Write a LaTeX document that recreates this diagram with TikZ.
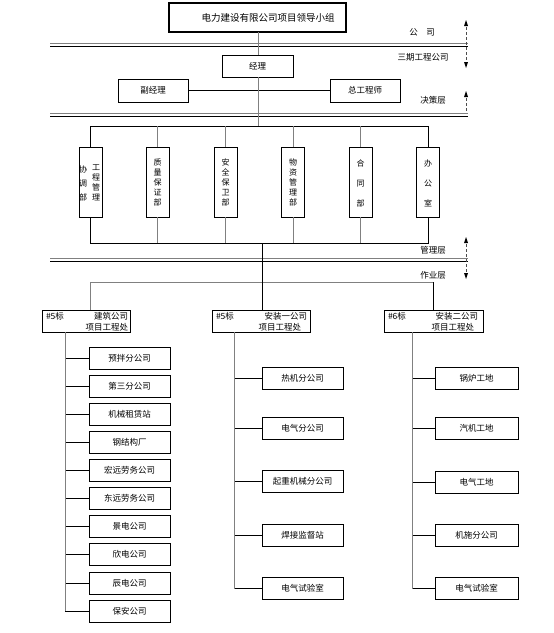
\documentclass[tikz,border=0pt]{standalone}
\usepackage{fontspec}
\setmainfont{Liberation Serif}
\newfontfamily\cjk{Noto Sans CJK SC}
\usetikzlibrary{arrows.meta}
\begin{document}
\begin{tikzpicture}[x=1pt,y=-1pt,
  every node/.style={inner sep=0pt, outer sep=0pt},
  txt/.style={font=\cjk\fontsize{8.5}{10}\selectfont},
  bx/.style={draw, line width=0.8pt, txt, minimum height=22pt},
  sub/.style={bx, minimum width=81pt},
  dept/.style={draw, line width=0.8pt, minimum width=23pt, minimum height=70pt},
  vtxt/.style={txt, align=center, font=\cjk\fontsize{8}{10}\selectfont},
  ln/.style={line width=0.8pt},
  gl/.style={line width=0.8pt, gray},
  dar/.style={line width=0.6pt, densely dashed, gray!60!black},
  tip/.style={-{Triangle[length=5pt,width=4pt]}}
]
\useasboundingbox (0,0) rectangle (554,633);
% top box
\node[draw, line width=1.6pt, minimum width=177pt, minimum height=29pt] (top) at (257.5,17.5) {};
\node[txt, font=\cjk\fontsize{9.5}{11}\selectfont] (toptxt) at (268,17.5) {电力建设有限公司项目领导小组};
% double lines
\draw[gl] (50,43) -- (468,43);
\draw[ln] (50,46) -- (468,46);
\draw[gl] (50,113) -- (468,113);
\draw[ln] (50,116) -- (468,116);
\draw[gl] (50,258) -- (468,258);
\draw[ln] (50,261) -- (468,261);
% right labels
\node[txt] (l1) at (422,32) {公\hspace{1em}司};
\node[txt] (l2) at (423,57) {三期工程公司};
\node[txt] (l3) at (433,100) {决策层};
\node[txt] (l4) at (433,250) {管理层};
\node[txt] (l5) at (433,275) {作业层};
% dashed arrows
\coordinate (a1t) at (466,22); \coordinate (a1b) at (466,66);
\coordinate (a2t) at (466,93); \coordinate (a2b) at (466,111);
\coordinate (a3t) at (466,239); \coordinate (a3b) at (466,277);
\draw[dar] (a1t) -- (a1b);
\draw[dar] (a2t) -- (a2b);
\draw[dar] (a3t) -- (a3b);
\fill[black] (466,20) -- (464,26) -- (468,26) -- cycle;
\fill[black] (466,68) -- (464,62) -- (468,62) -- cycle;
\fill[black] (466,91) -- (464,97) -- (468,97) -- cycle;
\fill[black] (466,237) -- (464,243) -- (468,243) -- cycle;
\fill[black] (466,279) -- (464,273) -- (468,273) -- cycle;
% decision level
\node[bx, minimum width=71pt] (jl) at (257.5,66) {经理};
\node[bx, minimum width=70pt, minimum height=23pt] (fjl) at (153,90.5) {副经理};
\node[bx, minimum width=70pt, minimum height=23pt] (zgc) at (365,90.5) {总工程师};
\draw[ln] (fjl.east) -- (zgc.west);
\coordinate (bt) at (258,126);
\draw[gl] (top.south -| bt) -- (jl.north -| bt);
\draw[gl] (jl.south -| bt) -- (bt);
% departments
\node[dept] (d1) at (90.5,182) {};
\node[vtxt] (d1a) at (83,183) {协\\[4pt]调\\[4pt]部};
\node[vtxt] (d1b) at (96,183) {工\\程\\管\\理};
\node[dept] (d2) at (157.5,182) {};
\node[vtxt] (d2t) at (157.5,182) {质\\量\\保\\证\\部};
\node[dept] (d3) at (225.5,182) {};
\node[vtxt] (d3t) at (225.5,182) {安\\全\\保\\卫\\部};
\node[dept] (d4) at (293,182) {};
\node[vtxt] (d4t) at (293,182) {物\\资\\管\\理\\部};
\node[dept] (d5) at (360.5,182) {};
\node[vtxt] (d5t) at (360.5,183) {合\\[10pt]同\\[10pt]部};
\node[dept] (d6) at (428,182) {};
\node[vtxt] (d6t) at (428,183) {办\\[10pt]公\\[10pt]室};
\draw[ln] (d1.north) -- (d1.north |- bt) -- (d6.north |- bt) -- (d6.north);
\foreach \d in {d2,d3,d4,d5} \draw[gl] (\d.north) -- (\d.north |- bt);
\coordinate (bb) at (262,243);
\draw[ln] (d1.south) -- (d1.south |- bb) -- (d6.south |- bb) -- (d6.south);
\foreach \d in {d2,d3,d4,d5} \draw[gl] (\d.south) -- (\d.south |- bb);
% work level
\coordinate (wb) at (262,282);
\draw[ln] (bb) -- (wb);
\node[draw, line width=0.8pt, minimum width=88pt, minimum height=22pt] (o1) at (86,321) {};
\node[draw, line width=0.8pt, minimum width=98pt, minimum height=22pt] (o2) at (261,321) {};
\node[draw, line width=0.8pt, minimum width=99pt, minimum height=22pt] (o3) at (433.5,321) {};
\draw[gl] (90,310) -- (90,282) -- (433,282);
\draw[ln] (433,282) -- (433,310);
\draw[ln] (262,282) -- (262,310);
\node[txt, anchor=west] (o1a) at (46,316) {\#5标};
\node[txt, anchor=east] (o1b) at (128,316) {建筑公司};
\node[txt, anchor=east] (o1c) at (128,327) {项目工程处};
\node[txt, anchor=west] (o2a) at (216,316) {\#5标};
\node[txt, anchor=east] (o2b) at (307,316) {安装一公司};
\node[txt, anchor=east] (o2c) at (301,327) {项目工程处};
\node[txt, anchor=west] (o3a) at (388,316) {\#6标};
\node[txt, anchor=east] (o3b) at (478,316) {安装二公司};
\node[txt, anchor=east] (o3c) at (474,327) {项目工程处};
% left column
\coordinate (t1) at (65,332);
\foreach \n/\y/\t in {1/358/预拌分公司,2/386/第三分公司,3/414/机械租赁站,4/442/钢结构厂,5/470/宏远劳务公司,6/498/东远劳务公司,7/526/景电公司,8/554/欣电公司,9/583/辰电公司,10/611/保安公司}{
  \node[sub] (a\n) at (129.5,\y) {\t};
  \draw[ln] (a\n.west) -- (a\n.west -| t1);
}
\draw[gl] (t1) -- (a10.west -| t1);
% middle column
\coordinate (t2) at (234,332);
\foreach \n/\y/\t in {1/378/热机分公司,2/428/电气分公司,3/481.5/起重机械分公司,4/535/焊接监督站,5/588.5/电气试验室}{
  \node[sub] (b\n) at (302.5,\y) {\t};
  \draw[ln] (b\n.west) -- (b\n.west -| t2);
}
\draw[gl] (t2) -- (b5.west -| t2);
% right column
\coordinate (t3) at (412,332);
\foreach \n/\y/\t in {1/378/锅炉工地,2/428/汽机工地,3/482/电气工地,4/535.5/机施分公司,5/588.5/电气试验室}{
  \node[sub, minimum width=83pt] (c\n) at (476.5,\y) {\t};
  \draw[ln] (c\n.west) -- (c\n.west -| t3);
}
\draw[gl] (t3) -- (c5.west -| t3);
\end{tikzpicture}
\end{document}
